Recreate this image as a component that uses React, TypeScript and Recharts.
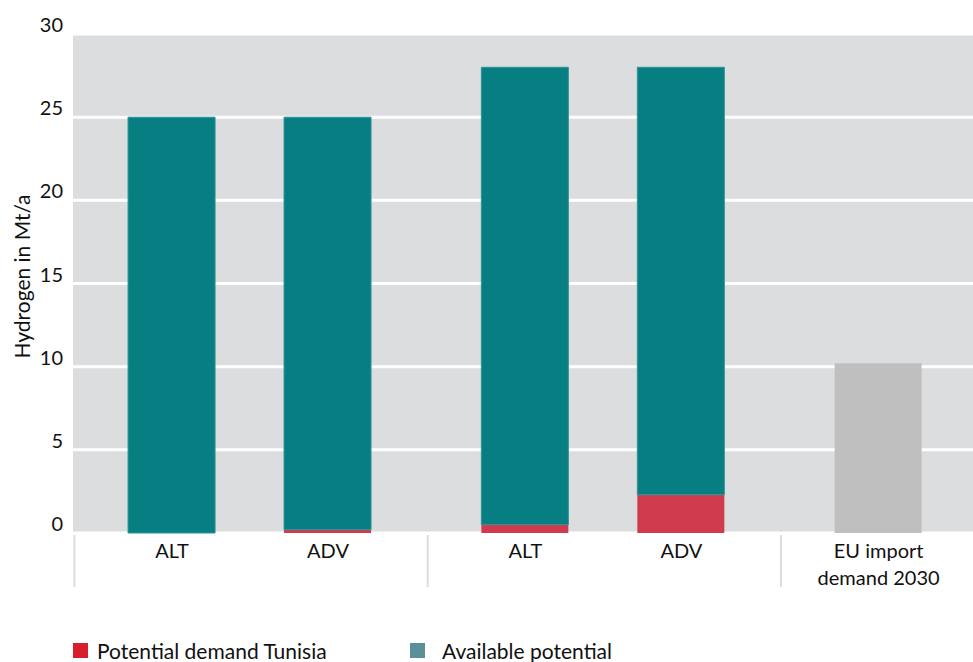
import React from 'react';
import { BarChart, Bar, XAxis, YAxis, CartesianGrid, Legend } from 'recharts';

// ---- data ----
const categories = ['ALT', 'ADV', 'ALT', 'ADV', 'EU import\ndemand 2030'];
const groups = [0, 0, 1, 1, 2];
const demandTunisia = [0, 0.2, 0.5, 2.3, null];
const availablePotential = [25, 24.8, 27.5, 25.7, null];
const euImportDemand = [null, null, null, null, 10.2];
const yTicks = [0, 5, 10, 15, 20, 25, 30];
const legendLabels = ['Potential demand Tunisia', 'Available potential'];

// ---- layout / style ----
const GROUP_GAP = 0.265;
const FONT = 'Lato, "Open Sans", sans-serif';
const C_RED = '#cf3a4c';
const C_TEAL = '#077f82';
const C_GREY = '#bfbfbf';
const LEGEND_COLORS = ['#d71f29', '#5a9199'];
const SEP_AXIS = 0;
const CAT_AXIS = 1;

const positions = categories.map((_, i) => i + groups[i] * GROUP_GAP);
const separators = [0, 1, 2].map((g) => {
  const first = positions[groups.indexOf(g)];
  return first - 0.5 - GROUP_GAP / 2;
});

const data = categories.map((c, i) => ({
  pos: positions[i],
  label: c,
  demand: demandTunisia[i],
  available: availablePotential[i],
  eu: euImportDemand[i],
}));

const CatTick = (props: any) => {
  const { x, y, payload } = props;
  const idx = positions.findIndex((p) => Math.abs(p - payload.value) < 1e-6);
  const lines = idx >= 0 ? categories[idx].split('\n') : [];
  return (
    <text x={x} y={y} textAnchor="middle" fill="#111" fontSize={20} fontFamily={FONT}>
      {lines.map((l, i) => (
        <tspan key={i} x={x} dy={i === 0 ? 24 : 27}>
          {l}
        </tspan>
      ))}
    </text>
  );
};

const YLabel = (props: any) => {
  const { viewBox } = props;
  const cx = 21;
  const cy = viewBox.y + viewBox.height / 2 - 7;
  return (
    <text
      x={cx}
      y={cy}
      transform={`rotate(-90, ${cx}, ${cy})`}
      textAnchor="middle"
      dominantBaseline="central"
      fontSize={21}
      fontFamily={FONT}
      fill="#111"
    >
      Hydrogen in Mt/a
    </text>
  );
};

const LegendContent = () => (
  <div style={{ display: 'flex', fontFamily: FONT, fontSize: 21, color: '#111', lineHeight: '24px' }}>
    {legendLabels.map((l, i) => (
      <div key={i} style={{ display: 'flex', alignItems: 'flex-start', width: i === 0 ? 337 : 300 }}>
        <div style={{ width: 15, height: 15, background: LEGEND_COLORS[i], marginTop: 4 }} />
        <span style={{ marginLeft: i === 0 ? 9 : 17 }}>{l}</span>
      </div>
    ))}
  </div>
);

export default function App() {
  return (
    <div style={{ position: 'absolute', left: 0, top: 0 }}>
      <BarChart
        width={973}
        height={662}
        data={data}
        margin={{ top: 34, right: 0, bottom: 88, left: 0 }}
      >
        <CartesianGrid xAxisId={CAT_AXIS} horizontal vertical={false} stroke="#ffffff" strokeWidth={3} fill="#dcdddf" fillOpacity={1} />
        <XAxis
          xAxisId={SEP_AXIS}
          dataKey="pos"
          type="number"
          domain={[-0.635, 5.135]}
          ticks={separators}
          tickFormatter={() => ''}
          tickLine={{ stroke: '#dddddd', strokeWidth: 2, transform: 'translate(1,2)' }}
          axisLine={false}
          tickSize={52}
          height={1}
          allowDataOverflow
        />
        <XAxis
          xAxisId={CAT_AXIS}
          dataKey="pos"
          type="number"
          domain={[-0.635, 5.135]}
          ticks={positions}
          tick={<CatTick />}
          tickLine={false}
          axisLine={false}
          tickSize={0}
          tickMargin={0}
          height={40}
          allowDataOverflow
        />
        <YAxis
          domain={[0, 30]}
          ticks={yTicks}
          width={73}
          axisLine={false}
          tickLine={false}
          tickSize={0}
          tickMargin={10}
          tick={{ fontSize: 20, fill: '#111', fontFamily: FONT, dy: -9 }}
          label={<YLabel />}
        />
        <Legend
          layout="horizontal"
          verticalAlign="middle"
          align="center"
          content={<LegendContent />}
          wrapperStyle={{ position: 'absolute', left: 73, top: 639, width: 800 }}
        />
        <Bar xAxisId={CAT_AXIS} dataKey="demand" stackId="a" fill={C_RED} barSize={87} isAnimationActive={false} />
        <Bar xAxisId={CAT_AXIS} dataKey="available" stackId="a" fill={C_TEAL} stroke="#2f9496" strokeWidth={1} barSize={87} isAnimationActive={false} />
        <Bar xAxisId={CAT_AXIS} dataKey="eu" stackId="a" fill={C_GREY} barSize={87} isAnimationActive={false} />
      </BarChart>
    </div>
  );
}
